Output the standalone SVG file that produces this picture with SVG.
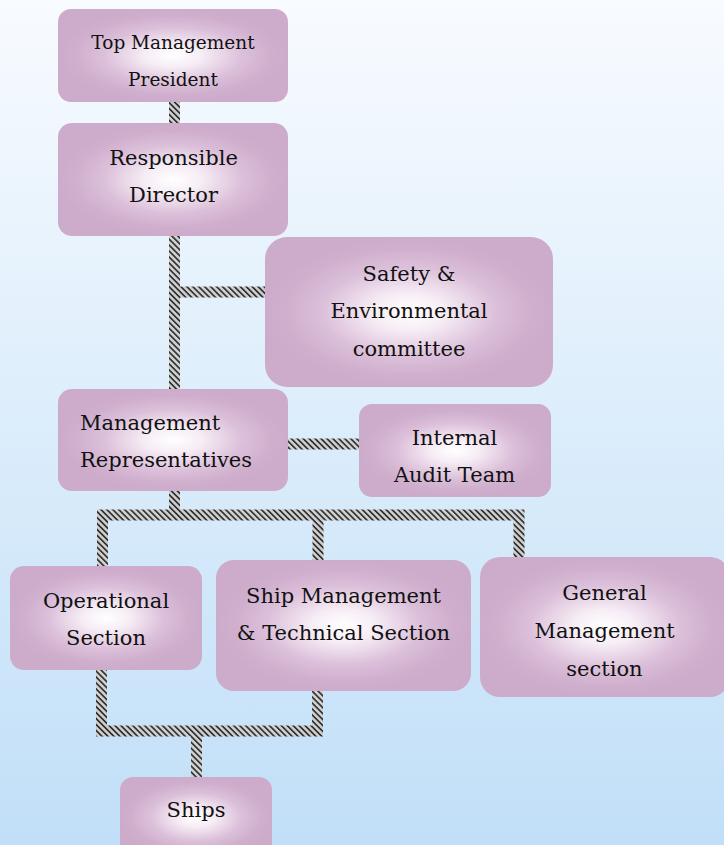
<svg xmlns="http://www.w3.org/2000/svg" width="724" height="845" viewBox="0 0 724 845">
  <defs>
    <linearGradient id="bg" x1="0" y1="0" x2="0" y2="1">
      <stop offset="0" stop-color="#f8fbff"/>
      <stop offset="0.5" stop-color="#dcedfb"/>
      <stop offset="1" stop-color="#c1dff8"/>
    </linearGradient>
    <radialGradient id="glow" cx="0.5" cy="0.5" r="0.5">
      <stop offset="0" stop-color="#ffffff"/>
      <stop offset="0.25" stop-color="#f6edf5"/>
      <stop offset="0.6" stop-color="#dcc0da"/>
      <stop offset="0.85" stop-color="#cfafcd"/>
      <stop offset="1" stop-color="#cdaccb"/>
    </radialGradient>
    <pattern id="stripes" width="4.2" height="4.2" patternUnits="userSpaceOnUse" patternTransform="rotate(-45)">
      <rect width="4.2" height="4.2" fill="#d0d0d0"/>
      <rect width="1.7" height="4.2" fill="#333333"/>
    </pattern>
    <style>
      .box { fill: url(#glow); }
      .lbl { font-family: "DejaVu Serif", "Liberation Serif", serif; font-size: 21px; fill: #111; text-anchor: middle; }
      .sm { font-size: 18.5px; }
      .left { text-anchor: start; }
      .wire { fill: none; stroke: url(#stripes); stroke-width: 11; stroke-linejoin: miter; stroke-linecap: butt; }
    </style>
  </defs>

  <rect width="724" height="845" fill="url(#bg)"/>

  <!-- connectors -->
  <g id="connectors">
    <path class="wire" d="M174.5 100 V125"/>
    <path class="wire" d="M174.5 234 V391"/>
    <path class="wire" d="M174.5 292 H267"/>
    <path class="wire" d="M286 444 H361"/>
    <path class="wire" d="M174.5 489 V515"/>
    <path class="wire" d="M102.5 568 V515 H519 V559"/>
    <path class="wire" d="M318 515 V562"/>
    <path class="wire" d="M101.5 668 V731 H317.5 V689"/>
    <path class="wire" d="M196.5 731 V779"/>
  </g>

  <!-- nodes -->
  <g id="top-management">
    <rect class="box" x="58" y="9" width="230" height="93" rx="13"/>
    <text class="lbl sm" x="173" y="49">Top Management</text>
    <text class="lbl sm" x="173" y="86">President</text>
  </g>
  <g id="responsible-director">
    <rect class="box" x="58" y="123" width="230" height="113" rx="14"/>
    <text class="lbl" x="173.5" y="165">Responsible</text>
    <text class="lbl" x="173.5" y="202">Director</text>
  </g>
  <g id="safety-committee">
    <rect class="box" x="265" y="237" width="288" height="150" rx="22"/>
    <text class="lbl" x="409" y="281">Safety &amp;</text>
    <text class="lbl" x="409" y="318">Environmental</text>
    <text class="lbl" x="409" y="356">committee</text>
  </g>
  <g id="management-representatives">
    <rect class="box" x="58" y="389" width="230" height="102" rx="14"/>
    <text class="lbl left" x="80" y="430">Management</text>
    <text class="lbl left" x="80" y="467">Representatives</text>
  </g>
  <g id="internal-audit">
    <rect class="box" x="359" y="404" width="192" height="93" rx="13"/>
    <text class="lbl" x="454.5" y="445">Internal</text>
    <text class="lbl" x="454.5" y="482">Audit Team</text>
  </g>
  <g id="operational-section">
    <rect class="box" x="10" y="566" width="192" height="104" rx="14"/>
    <text class="lbl" x="106" y="608">Operational</text>
    <text class="lbl" x="106" y="645">Section</text>
  </g>
  <g id="ship-management">
    <rect class="box" x="216" y="560" width="255" height="131" rx="18"/>
    <text class="lbl" x="343.5" y="603">Ship Management</text>
    <text class="lbl" x="343.5" y="640">&amp; Technical Section</text>
  </g>
  <g id="general-management">
    <rect class="box" x="480" y="557" width="250" height="140" rx="20"/>
    <text class="lbl" x="604.5" y="600">General</text>
    <text class="lbl" x="604.5" y="638">Management</text>
    <text class="lbl" x="604.5" y="676">section</text>
  </g>
  <g id="ships">
    <rect class="box" x="120" y="777" width="152" height="80" rx="13"/>
    <text class="lbl" x="196" y="817">Ships</text>
  </g>
</svg>
